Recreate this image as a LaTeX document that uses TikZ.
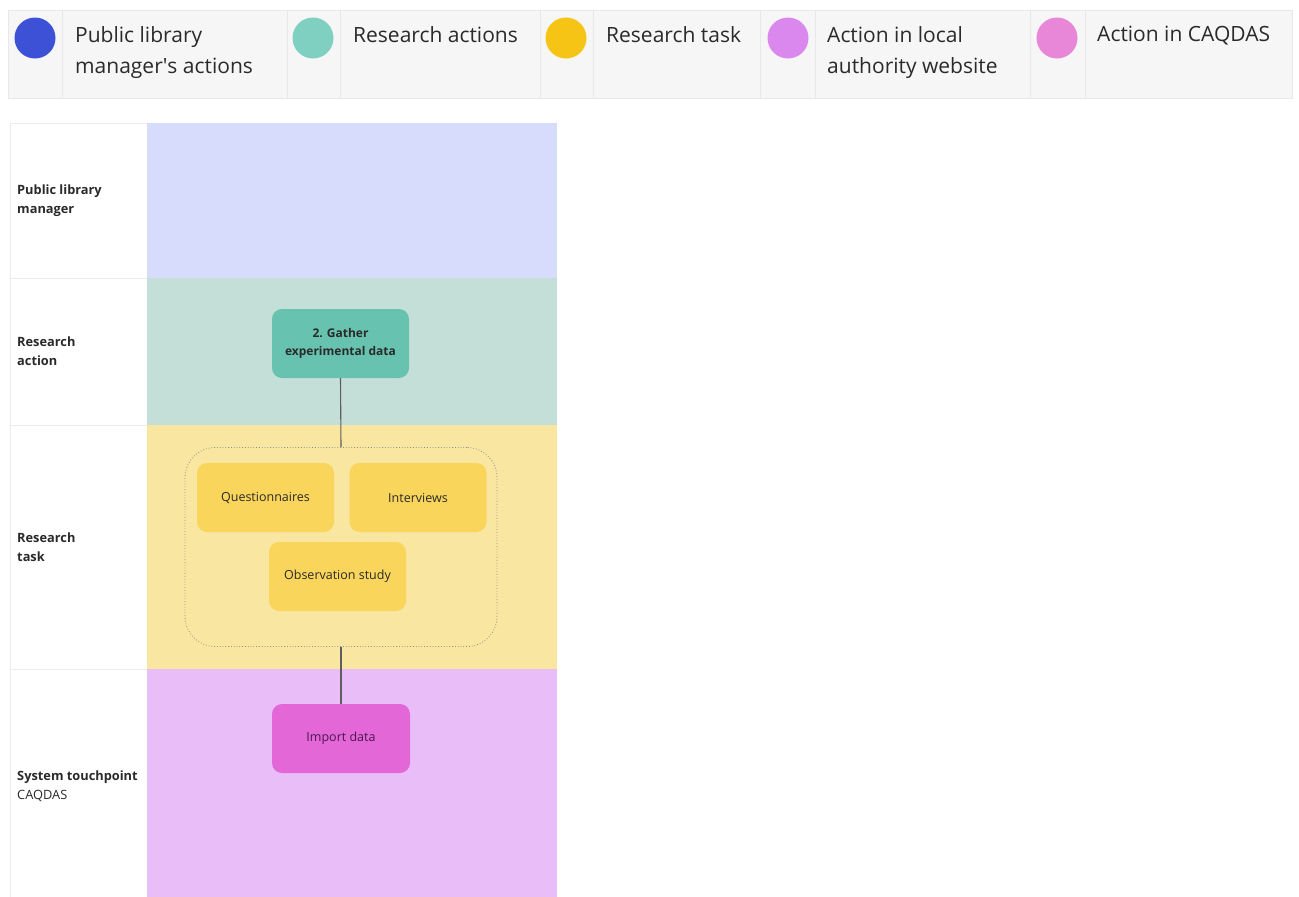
\documentclass[tikz,border=0pt]{standalone}
\usepackage{fontspec}
\setmainfont{Open Sans}
\definecolor{legendbg}{HTML}{F7F6F7}
\definecolor{legendrule}{HTML}{E9E8E9}
\definecolor{dotmanager}{HTML}{3D51D6}
\definecolor{dotresearch}{HTML}{80D0C1}
\definecolor{dottask}{HTML}{F6C415}
\definecolor{dotwebsite}{HTML}{DB88EE}
\definecolor{dotcaqdas}{HTML}{E887D8}
\definecolor{lanemanager}{HTML}{D8DCFC}
\definecolor{laneresearch}{HTML}{C4DFD8}
\definecolor{lanetask}{HTML}{F9E6A1}
\definecolor{lanesystem}{HTML}{E9BDF8}
\definecolor{cardresearch}{HTML}{67C3AF}
\definecolor{cardtask}{HTML}{F9D55C}
\definecolor{cardsystem}{HTML}{E367D6}
\definecolor{inkdark}{HTML}{2A2A2A}
\definecolor{inkplum}{HTML}{4A1850}
\definecolor{linkgrey}{HTML}{5E5E5E}
\definecolor{labelrule}{HTML}{ECECEC}
\tikzset{
  legendtext/.style={anchor=north west, inner sep=0pt, align=left, text=inkdark,
    font=\fontsize{21}{31}\selectfont},
  legenddot/.style={circle, minimum size=41pt, inner sep=0pt},
  lanelabel/.style={anchor=west, inner sep=0pt, align=left, text=inkdark,
    font=\fontsize{12.8}{19}\selectfont},
  card/.style={rectangle, rounded corners=10pt, minimum width=137pt, minimum height=69pt,
    inner sep=2pt, align=center, text=inkdark, font=\fontsize{12.5}{18}\selectfont},
  groupbox/.style={rectangle, rounded corners=30pt, draw=linkgrey!70, dotted, line width=0.8pt,
    minimum width=312pt, minimum height=199pt},
  link/.style={draw=linkgrey, line width=1.1pt}
}
\begin{document}
\begin{tikzpicture}[x=1pt,y=-1pt]
\useasboundingbox (0,0) rectangle (1299,897);
\fill[white] (0,0) rectangle (1299,897);

% legend strip
\filldraw[fill=legendbg, draw=legendrule, line width=1pt] (8,10) rectangle (1292,98);
\foreach \xx in {62,287,340,540,593,760,815,1030,1085}
  \draw[legendrule, line width=1pt] (\xx,10) -- (\xx,98);
\node[legenddot, fill=dotmanager]  (d1) at (35,38) {};
\node[legenddot, fill=dotresearch] (d2) at (313,38) {};
\node[legenddot, fill=dottask]     (d3) at (566,38) {};
\node[legenddot, fill=dotwebsite]  (d4) at (788,38) {};
\node[legenddot, fill=dotcaqdas]   (d5) at (1057,38) {};
\node[legendtext] (t1) at (75,26)   {Public library\\manager\textquotesingle s actions};
\node[legendtext] (t2) at (353,26)  {Research actions};
\node[legendtext] (t3) at (606,26)  {Research task};
\node[legendtext] (t4) at (827,26)  {Action in local\\authority website};
\node[legendtext] (t5) at (1097,26) {Action in CAQDAS};

% swimlanes
\fill[lanemanager]  (147,123) rectangle (557,278);
\fill[laneresearch] (147,278) rectangle (557,425);
\fill[lanetask]     (147,425) rectangle (557,669);
\fill[lanesystem]   (147,669) rectangle (557,897);
\draw[labelrule, line width=1pt] (10,897) -- (10,123) -- (147,123);
\foreach \yy in {278,425,669}
  \draw[labelrule, line width=1pt] (10,\yy) -- (147,\yy);

% lane labels
\node[lanelabel] (l1) at (17,201) {\textbf{Public library}\\\textbf{manager}};
\node[lanelabel] (l2) at (17,351) {\textbf{Research}\\\textbf{action}};
\node[lanelabel] (l3) at (17,547) {\textbf{Research}\\\textbf{task}};
\node[lanelabel] (l4) at (17,786) {\textbf{System touchpoint}\\CAQDAS};

% cards
\node[card, fill=cardresearch, font=\fontsize{12}{18}\selectfont\bfseries] (gather) at (340.5,343.5) {2. Gather\\experimental data};
\node[groupbox] (grp) at (341,547) {};
\node[card, fill=cardtask] (quest) at (265.5,497.5) {Questionnaires};
\node[card, fill=cardtask] (inter) at (418,497.5) {Interviews};
\node[card, fill=cardtask] (obs) at (337.5,576.5) {Observation study};
\node[card, fill=cardsystem, minimum width=138pt, text=inkplum] (imp) at (341,738.5) {Import data};

% connectors
\draw[link] (gather.south) -- (grp.north);
\draw[link] (grp.south) -- (imp.north);
\end{tikzpicture}
\end{document}
